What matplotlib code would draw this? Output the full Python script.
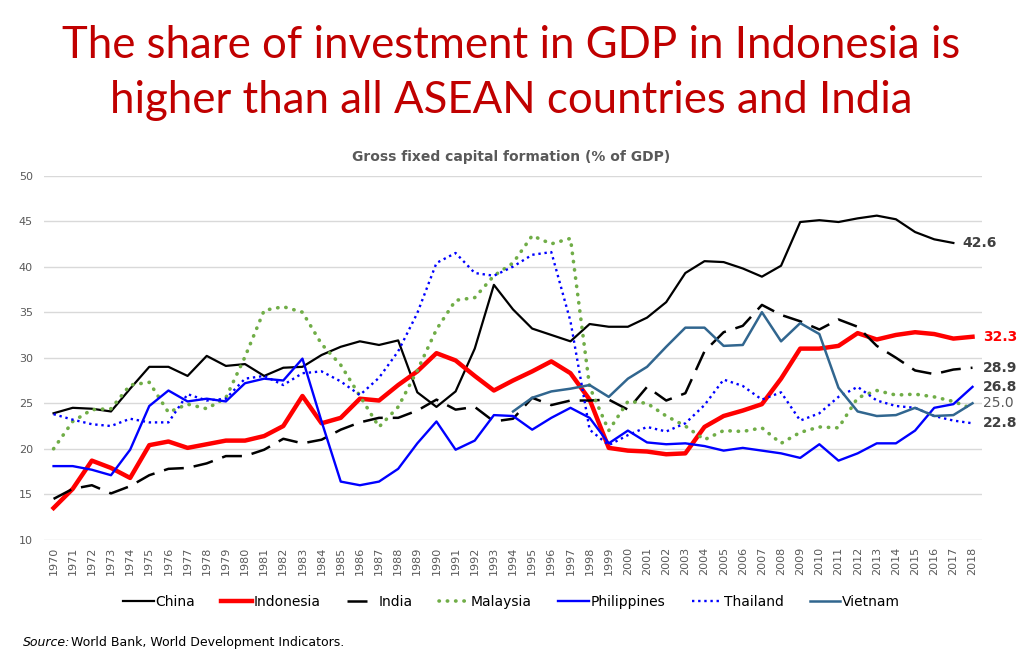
import matplotlib
matplotlib.use("Agg")
import matplotlib.pyplot as plt

# Gross fixed capital formation (% of GDP), World Bank WDI
years = list(range(1970, 2019))

china = [23.9, 24.5, 24.4, 24.1, 26.6, 29.0, 29.0, 28.0, 30.2, 29.1,
         29.3, 28.0, 28.9, 29.0, 30.3, 31.2, 31.8, 31.4, 31.9, 26.2,
         24.6, 26.3, 31.0, 38.0, 35.3, 33.2, 32.5, 31.8, 33.7, 33.4,
         33.4, 34.4, 36.1, 39.3, 40.6, 40.5, 39.8, 38.9, 40.1, 44.9,
         45.1, 44.9, 45.3, 45.6, 45.2, 43.8, 43.0, 42.6, None]
indonesia = [13.5, 15.6, 18.7, 17.9, 16.8, 20.4, 20.8, 20.1, 20.5, 20.9,
             20.9, 21.4, 22.5, 25.8, 22.8, 23.4, 25.5, 25.3, 27.0, 28.5,
             30.5, 29.7, 28.0, 26.4, 27.5, 28.5, 29.6, 28.3, 25.4, 20.1,
             19.8, 19.7, 19.4, 19.5, 22.4, 23.6, 24.2, 24.9, 27.7, 31.0,
             31.0, 31.3, 32.7, 32.0, 32.5, 32.8, 32.6, 32.1, 32.3]
india = [14.5, 15.6, 16.0, 15.1, 15.9, 17.1, 17.8, 17.9, 18.4, 19.2,
         19.2, 19.9, 21.1, 20.6, 21.0, 22.1, 22.9, 23.4, 23.4, 24.2,
         25.4, 24.3, 24.6, 23.0, 23.3, 25.6, 24.8, 25.3, 25.3, 25.4,
         24.3, 26.8, 25.3, 26.1, 30.7, 32.8, 33.5, 35.8, 34.7, 34.0,
         33.1, 34.2, 33.4, 31.3, 30.0, 28.6, 28.2, 28.7, 28.9]
malaysia = [20.0, 23.0, 24.3, 24.4, 27.0, 27.3, 24.0, 24.9, 24.4, 25.6,
            30.1, 35.2, 35.6, 35.0, 31.5, 29.2, 25.8, 22.4, 24.6, 28.6,
            33.1, 36.3, 36.6, 39.0, 40.4, 43.4, 42.5, 43.1, 26.8, 22.0,
            25.2, 25.0, 23.6, 22.5, 21.0, 22.0, 21.9, 22.3, 20.6, 21.8,
            22.4, 22.3, 25.6, 26.4, 25.9, 26.0, 25.7, 25.2, 24.4]
philippines = [18.1, 18.1, 17.7, 17.1, 19.9, 24.7, 26.4, 25.2, 25.5, 25.2,
               27.2, 27.7, 27.5, 29.9, 23.0, 16.4, 16.0, 16.4, 17.8, 20.6,
               23.0, 19.9, 20.9, 23.7, 23.6, 22.1, 23.4, 24.5, 23.4, 20.6,
               22.0, 20.7, 20.5, 20.6, 20.3, 19.8, 20.1, 19.8, 19.5, 19.0,
               20.5, 18.7, 19.5, 20.6, 20.6, 22.0, 24.5, 24.9, 26.8]
thailand = [23.8, 23.2, 22.7, 22.5, 23.3, 22.9, 22.9, 26.0, 25.3, 25.5,
            27.7, 28.0, 27.0, 28.3, 28.5, 27.4, 25.9, 27.8, 30.7, 34.9,
            40.4, 41.5, 39.3, 39.0, 40.0, 41.3, 41.6, 34.0, 22.1, 20.4,
            21.5, 22.4, 21.9, 22.8, 24.8, 27.6, 26.9, 25.4, 26.2, 23.1,
            23.9, 25.7, 26.8, 25.3, 24.7, 24.5, 23.6, 23.1, 22.8]
vietnam = [None] * 24 + [
    24.1, 25.6, 26.3, 26.6, 27.0, 25.7,
    27.7, 29.0, 31.2, 33.3, 33.3, 31.3, 31.4, 35.0, 31.8, 33.8,
    32.6, 26.7, 24.1, 23.6, 23.7, 24.5, 23.6, 23.7, 25.0]

def clean(vals):
    return [float("nan") if v is None else v for v in vals]

fig = plt.figure(figsize=(10.23, 6.60), dpi=100)
ax = fig.add_axes([0.043, 0.182, 0.917, 0.552])

ax.plot(years, clean(china), color="black", lw=1.6, label="China")
ax.plot(years, clean(indonesia), color="#ff0000", lw=3.2, label="Indonesia")
ax.plot(years, clean(india), color="black", lw=1.8, dashes=(8, 4), label="India")
ax.plot(years, clean(malaysia), color="#70ad47", lw=2.6, linestyle=(0, (0.1, 2.2)),
        dash_capstyle="round", label="Malaysia")
ax.plot(years, clean(philippines), color="#0000ff", lw=1.7, label="Philippines")
ax.plot(years, clean(thailand), color="#0000ff", lw=1.7, linestyle=(0, (1, 1.6)),
        label="Thailand")
ax.plot(years, clean(vietnam), color="#31668f", lw=1.8, label="Vietnam")

ax.set_xlim(1969.5, 2018.5)
ax.set_ylim(10, 50)
ax.set_yticks(range(10, 51, 5))
ax.set_xticks(years)
ax.set_xticklabels([str(y) for y in years], rotation=90)
ax.tick_params(axis="both", length=0, labelsize=8, labelcolor="#595959")
ax.tick_params(axis="x", pad=5)
ax.tick_params(axis="y", pad=8)
ax.grid(axis="y", color="#d9d9d9", lw=1)
ax.set_axisbelow(True)
for s in ax.spines.values():
    s.set_visible(False)

# end labels
ends = [(2017, 42.6, "42.6", "#404040", "bold", 962),
        (2018, 32.3, "32.3", "#ff0000", "bold", 983),
        (2018, 28.9, "28.9", "#404040", "bold", 983),
        (2018, 26.8, "26.8", "#404040", "bold", 983),
        (2018, 25.0, "25.0", "#595959", "normal", 983),
        (2018, 22.8, "22.8", "#404040", "bold", 983)]
for yr, val, txt, col, wt, xp in ends:
    ax.annotate(txt, xy=(yr, val), xycoords="data",
                xytext=(xp / 1023, 0), textcoords=("figure fraction", "offset points"),
                ha="left", va="center", fontsize=10, color=col, fontweight=wt,
                annotation_clip=False)

fig.text(0.5, 0.931, "The share of investment in GDP in Indonesia is",
         ha="center", va="center", fontsize=31.5, color="#c00000", family="Lato")
fig.text(0.5, 0.848, "higher than all ASEAN countries and India",
         ha="center", va="center", fontsize=31.5, color="#c00000", family="Lato")
fig.text(0.5, 0.762, "Gross fixed capital formation (% of GDP)",
         ha="center", va="center", fontsize=10, color="#595959", fontweight="bold")

fig.legend(loc="center", bbox_to_anchor=(0.5, 0.088), ncol=7, frameon=False,
           fontsize=10, handlelength=2.2, handletextpad=0.1, columnspacing=1.9)

fig.text(0.022, 0.027, "Source:", fontsize=9, style="italic", ha="left", va="center")
fig.text(0.069, 0.027, "World Bank, World Development Indicators.", fontsize=9,
         ha="left", va="center")

fig.savefig("out.png", dpi=100)
